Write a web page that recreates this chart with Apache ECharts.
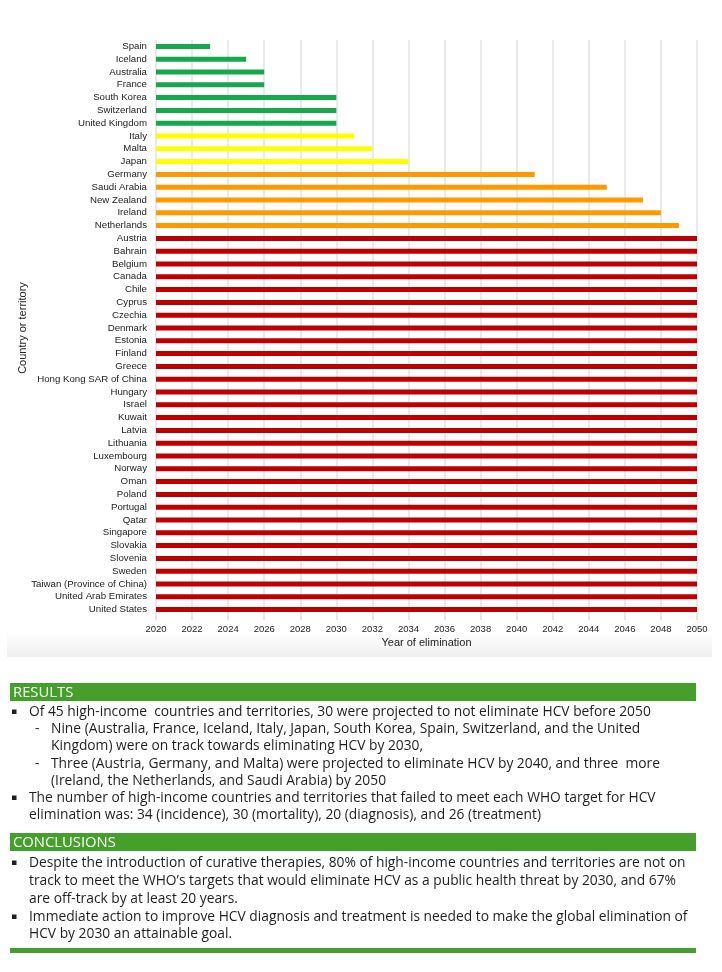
<!DOCTYPE html>
<html>
<head>
<meta charset="utf-8">
<script src="https://cdn.jsdelivr.net/npm/echarts@6/dist/echarts.min.js"></script>
<style>
html,body{margin:0;padding:0;background:#fff;}
#chart{width:722px;height:972px;}
</style>
</head>
<body>
<div id="chart"></div>
<script>
// ---- data ----
const countries = ['Spain','Iceland','Australia','France','South Korea','Switzerland','United Kingdom','Italy','Malta','Japan','Germany','Saudi Arabia','New Zealand','Ireland','Netherlands','Austria','Bahrain','Belgium','Canada','Chile','Cyprus','Czechia','Denmark','Estonia','Finland','Greece','Hong Kong SAR of China','Hungary','Israel','Kuwait','Latvia','Lithuania','Luxembourg','Norway','Oman','Poland','Portugal','Qatar','Singapore','Slovakia','Slovenia','Sweden','Taiwan (Province of China)','United Arab Emirates','United States'];
const eliminationYear = [2023,2025,2026,2026,2030,2030,2030,2031,2032,2034,2041,2045,2047,2048,2049,
  2050,2050,2050,2050,2050,2050,2050,2050,2050,2050,2050,2050,2050,2050,2050,
  2050,2050,2050,2050,2050,2050,2050,2050,2050,2050,2050,2050,2050,2050,2050];
const xTicks = {min:2020, max:2050, step:2};
const xAxisTitle = 'Year of elimination';
const yAxisTitle = 'Country or territory';

const resultsTitle = 'RESULTS';
const resultsLines = [
  {kind:'bullet', text:'Of 45 high-income  countries and territories, 30 were projected to not eliminate HCV before 2050'},
  {kind:'dash', text:'Nine (Australia, France, Iceland, Italy, Japan, South Korea, Spain, Switzerland, and the United'},
  {kind:'cont2', text:'Kingdom) were on track towards eliminating HCV by 2030,'},
  {kind:'dash', text:'Three (Austria, Germany, and Malta) were projected to eliminate HCV by 2040, and three  more'},
  {kind:'cont2', text:'(Ireland, the Netherlands, and Saudi Arabia) by 2050'},
  {kind:'bullet', text:'The number of high-income countries and territories that failed to meet each WHO target for HCV'},
  {kind:'cont1', text:'elimination was: 34 (incidence), 30 (mortality), 20 (diagnosis), and 26 (treatment)'}
];
const conclusionsTitle = 'CONCLUSIONS';
const conclusionsLines = [
  {kind:'bullet', text:'Despite the introduction of curative therapies, 80% of high-income countries and territories are not on'},
  {kind:'cont1', text:'track to meet the WHO\u2019s targets that would eliminate HCV as a public health threat by 2030, and 67%'},
  {kind:'cont1', text:'are off-track by at least 20 years.'},
  {kind:'bullet', text:'Immediate action to improve HCV diagnosis and treatment is needed to make the global elimination of'},
  {kind:'cont1', text:'HCV by 2030 an attainable goal.'}
];

// ---- styles ----
const GREEN = '#17a84b', YELLOW = '#ffff00', ORANGE = '#ff9900', RED = '#c00000';
function colorFor(y){ if (y <= 2030) return GREEN; if (y <= 2035) return YELLOW; if (y < 2050) return ORANGE; return RED; }
const BAND = '#45a02b';
const TXT = '#1f1f1f';
const bodyFont = '13.8px "Open Sans"';

const chart = echarts.init(document.getElementById('chart'), null, {renderer:'canvas'});

const graphics = [];
graphics.push({type:'rect', z:-10, shape:{x:7,y:632,width:705,height:25},
  style:{fill:new echarts.graphic.LinearGradient(0,0,0,1,[{offset:0,color:'#ffffff'},{offset:1,color:'#eeeeee'}])}, silent:true});

function addSection(title, bandY, lines, lineYs){
  graphics.push({type:'rect', shape:{x:10,y:bandY,width:686,height:18}, style:{fill:BAND}});
  graphics.push({type:'text', x:13, y:bandY+9.5, style:{text:title, font:'14.8px "Open Sans"', fill:'#ffffff', verticalAlign:'middle'}});
  lines.forEach((ln,i)=>{
    const y = lineYs[i];
    let tx = 29;
    if (ln.kind === 'bullet') {
      graphics.push({type:'rect', shape:{x:12,y:y-2.5,width:4.5,height:4.5}, style:{fill:TXT}});
    } else if (ln.kind === 'dash') {
      graphics.push({type:'text', x:35, y:y, style:{text:'-', font:bodyFont, fill:TXT, verticalAlign:'middle'}});
      tx = 51;
    } else if (ln.kind === 'cont2') {
      tx = 51;
    }
    graphics.push({type:'text', x:tx, y:y, style:{text:ln.text, font:bodyFont, fill:TXT, verticalAlign:'middle'}});
  });
}
addSection(resultsTitle, 683, resultsLines, [712,729,746,764,781,798,815]);
addSection(conclusionsTitle, 833, conclusionsLines, [863,881,899,917,934]);
graphics.push({type:'rect', shape:{x:10,y:948,width:686,height:5}, style:{fill:BAND}});

const option = {
  backgroundColor:'#ffffff',
  animation:false,
  textStyle:{fontFamily:'"Liberation Sans", Arial, sans-serif'},
  grid:{left:156, top:40, width:541, height:576, containLabel:false},
  xAxis:{
    type:'value', min:xTicks.min, max:xTicks.max, interval:xTicks.step,
    name:xAxisTitle, nameLocation:'middle', nameGap:21, nameMoveOverlap:false,
    nameTextStyle:{fontSize:11, color:'#222', verticalAlign:'top'},
    axisLine:{show:false},
    axisTick:{show:true, length:4, lineStyle:{color:'#dcdcdc', width:1.5}},
    axisLabel:{fontSize:9.5, color:'#222', margin:8, formatter:v=>String(v)},
    splitLine:{show:true, lineStyle:{color:'#e3e3e3', width:1.5}}
  },
  yAxis:{
    type:'category', inverse:true, data:countries,
    name:yAxisTitle, nameLocation:'middle', nameGap:128, nameRotate:90, nameMoveOverlap:false,
    nameTextStyle:{fontSize:11, color:'#222'},
    axisLine:{show:false}, axisTick:{show:false},
    axisLabel:{fontSize:9.7, color:'#222', margin:9, interval:0},
    splitLine:{show:false}
  },
  series:[{
    type:'bar', barWidth:5, clip:true,
    data:eliminationYear.map(v=>({value:v, itemStyle:{color:colorFor(v)}}))
  }],
  graphic:graphics
};
chart.setOption(option);
</script>
</body>
</html>
